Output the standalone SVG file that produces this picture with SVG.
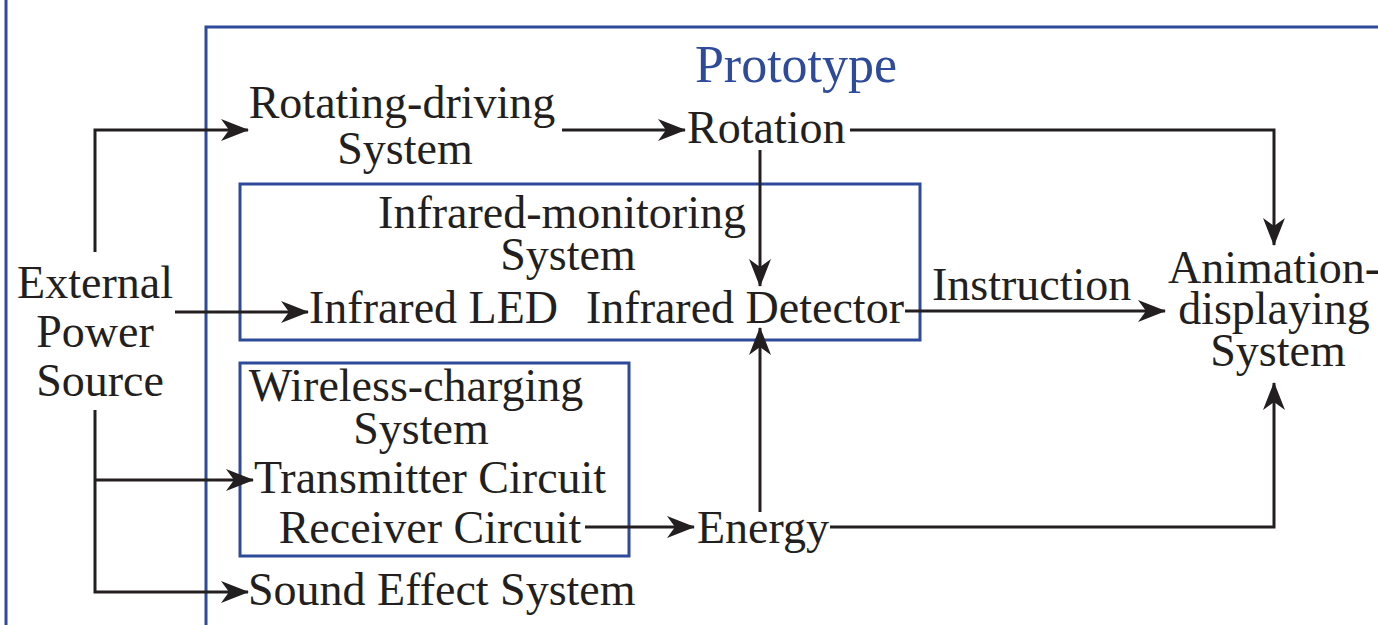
<svg xmlns="http://www.w3.org/2000/svg" width="1378" height="625" viewBox="0 0 1378 625">
<defs>
<style>
text{font-family:"Liberation Serif","Times New Roman",serif;font-size:46px;fill:#231f20}
.b{fill:none;stroke:#2e4b9b;stroke-width:3}
.c{fill:none;stroke:#231f20;stroke-width:3}
.t{fill:#2e4b9b;font-size:52px}
</style>
<marker id="ah" markerUnits="userSpaceOnUse" markerWidth="28" markerHeight="22" refX="27" refY="11" orient="auto">
<path d="M0,0 L28,11 L0,22 L8,11 z" fill="#231f20"/>
</marker>
</defs>
<rect width="1378" height="625" fill="#fff"/>
<g id="frames">
<line class="b" x1="6" y1="0" x2="6" y2="625"/>
<path class="b" d="M206,625 V27 H1380"/>
</g>
<g id="prototype"><text class="t" x="796" y="82" text-anchor="middle">Prototype</text></g>
<g id="infrared-monitoring">
<rect class="b" x="240" y="184" width="680" height="156"/>
<text x="562" y="228" text-anchor="middle">Infrared-monitoring</text>
<text x="568" y="270" text-anchor="middle">System</text>
<text x="309" y="323">Infrared LED</text>
<text x="586" y="323">Infrared Detector</text>
</g>
<g id="wireless-charging">
<rect class="b" x="240" y="363" width="389" height="193"/>
<text x="416" y="401" text-anchor="middle">Wireless-charging</text>
<text x="421" y="444" text-anchor="middle">System</text>
<text x="430" y="493" text-anchor="middle">Transmitter Circuit</text>
<text x="430" y="543" text-anchor="middle">Receiver Circuit</text>
</g>
<g id="external-power">
<text x="95" y="298" text-anchor="middle">External</text>
<text x="95" y="347" text-anchor="middle">Power</text>
<text x="100" y="396" text-anchor="middle">Source</text>
</g>
<g id="rotating-driving">
<text x="402" y="118" text-anchor="middle">Rotating-driving</text>
<text x="405" y="164" text-anchor="middle">System</text>
</g>
<g id="rotation"><text x="687" y="143">Rotation</text></g>
<g id="energy"><text x="697" y="543">Energy</text></g>
<g id="sound"><text x="248" y="605">Sound Effect System</text></g>
<g id="animation">
<text x="1274" y="283" text-anchor="middle">Animation-</text>
<text x="1274" y="324" text-anchor="middle">displaying</text>
<text x="1278" y="366" text-anchor="middle">System</text>
</g>
<g id="instruction-label"><text x="932" y="300">Instruction</text></g>
<g id="connectors">
<path class="c" d="M95,252 V130 H248" marker-end="url(#ah)"/>
<path class="c" d="M175,312 H308" marker-end="url(#ah)"/>
<path class="c" d="M95,410 V592 H248" marker-end="url(#ah)"/>
<path class="c" d="M95,480 H253" marker-end="url(#ah)"/>
<path class="c" d="M562,130 H685" marker-end="url(#ah)"/>
<path class="c" d="M850,130 H1274 V245" marker-end="url(#ah)"/>
<path class="c" d="M760,150 V286" marker-end="url(#ah)"/>
<path class="c" d="M760,512 V328" marker-end="url(#ah)"/>
<path class="c" d="M905,311 H1165" marker-end="url(#ah)"/>
<path class="c" d="M585,527 H694" marker-end="url(#ah)"/>
<path class="c" d="M830,527 H1274 V383" marker-end="url(#ah)"/>
</g>
</svg>
